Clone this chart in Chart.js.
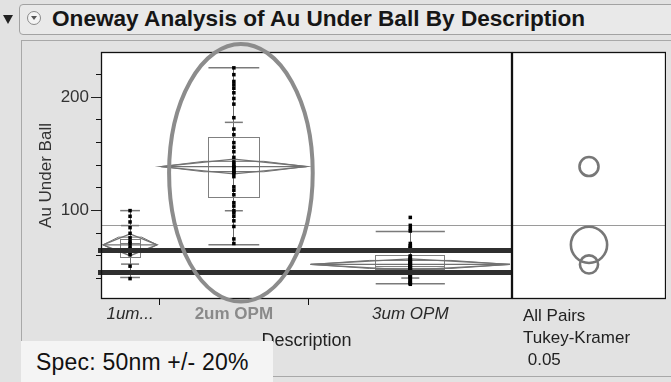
<!DOCTYPE html>
<html>
<head>
<meta charset="utf-8">
<script src="https://cdn.jsdelivr.net/npm/chart.js@4.4.0/dist/chart.umd.min.js"></script>
<style>
  html, body { margin: 0; padding: 0; }
  body {
    width: 671px; height: 382px; position: relative; overflow: hidden;
    background: #e2e2e2; font-family: "Liberation Sans", Arial, sans-serif; color: #111;
  }
  #titlebar {
    position: absolute; left: 19px; top: 4px; width: 670px; height: 31px;
    border: 1px solid #a2a2a2; border-radius: 4px; background: #e9e9e9; box-sizing: border-box;
  }
  #tri {
    position: absolute; left: 3px; top: 15px; width: 0; height: 0;
    border-left: 5px solid transparent; border-right: 5px solid transparent; border-top: 9px solid #222;
  }
  #disc {
    position: absolute; left: 27px; top: 11px; width: 14px; height: 14px; box-sizing: border-box;
    border: 1px solid #8a8a8a; border-radius: 50%; background: #f4f4f4;
  }
  #disc::after {
    content: ""; position: absolute; left: 3px; top: 4px; width: 0; height: 0;
    border-left: 3px solid transparent; border-right: 3px solid transparent; border-top: 4px solid #555;
  }
  #title {
    position: absolute; left: 52px; top: 6px; font-weight: bold; font-size: 22.6px;
    line-height: 26px; white-space: nowrap; color: #161616;
  }
  #panel {
    position: absolute; left: 21px; top: 40px; width: 670px; height: 337px;
    border: 1px solid #a8a8a8; box-sizing: border-box;
  }
  canvas { position: absolute; top: 0; }
  #main { left: 0; }
  #cmp { left: 512px; }
  #spec {
    position: absolute; left: 21px; top: 341px; width: 252px; height: 41px;
    background: #f4f4f4; font-size: 23px; line-height: 42px; padding-left: 15px;
    box-sizing: border-box; letter-spacing: 0.2px; white-space: nowrap; color: #111;
  }
  #method {
    position: absolute; left: 523px; top: 305px; font-size: 17px; line-height: 22px; color: #222;
  }
</style>
</head>
<body>
<div id="tri"></div>
<div id="titlebar"></div>
<div id="disc"></div>
<div id="title">Oneway Analysis of Au Under Ball By Description</div>
<div id="panel"></div>
<canvas id="main" width="671" height="382"></canvas>
<canvas id="cmp" width="154" height="382"></canvas>
<div id="method">All Pairs<br>Tukey-Kramer<br>&nbsp;0.05</div>
<div id="spec">Spec: 50nm +/- 20%</div>

<script>
// Description levels
const categories = ['1um...', '2um OPM', '3um OPM'];

// Au Under Ball observations per level
const values1um = [100, 95, 90, 85, 80, 76, 73, 71, 68, 66, 63, 61, 51, 40];
const values2um = [226, 220, 214, 211, 208, 204, 199, 194, 182, 172, 167, 160, 156, 152, 147, 143,
                   141, 139, 138, 137, 135, 134, 133, 130, 121, 118, 114, 107, 104, 100, 98, 95,
                   91, 86, 75, 71];
const values3um = [94, 87, 84, 82, 71, 69, 68, 67, 66, 60, 59, 58, 57, 57, 56, 55, 55, 54, 54,
                   53, 53, 52, 52, 51, 51, 50, 50, 49, 49, 48, 48, 47, 47, 46, 46, 45, 45, 44,
                   43, 42, 42, 41, 40, 39, 38, 37, 36, 36, 35];

// Per-level summary statistics
const groupMeans   = [69.8, 138.9, 52.5];
const meanCI95     = [9.6, 6.5, 5.0];
const quartile1    = [59.0, 112.2, 47.6];
const medians      = [71.0, 134.4, 51.0];
const quartile3    = [74.8, 164.8, 60.0];
const stdDevs      = [17.0, 39.0, 12.0];
const lowerLines   = [41.0, 69.8, 35.4];
const upperLines   = [100.0, 226.0, 81.5];
const circleRadii  = [16.0, 8.4, 8.0];   // Tukey-Kramer comparison circles

const grandMean  = 86.8;
const specLimits = [45.4, 64.8];
const yMajorTicks = [100, 200];
const yMinorTicks = [40, 60, 80, 120, 140, 160, 180, 220];
const yMin = 22, yMax = 240;

// Circled level (x in cumulative-count units, y in Au units)
const highlightEllipse = { x: 33.7, y: 133.4, rx: 17.3, ry: 113.7 };

const FONT = '"Liberation Sans", Arial, sans-serif';
Chart.defaults.font.family = FONT;

// Each level takes a share of the x axis proportional to its count
const levelValues = [values1um, values2um, values3um];
const levels = [];
let acc = 0;
levelValues.forEach(v => {
  levels.push({ start: acc, end: acc + v.length, center: acc + v.length / 2 });
  acc += v.length;
});
const totalCount = acc;

function seg(ctx, x1, y1, x2, y2) {
  ctx.beginPath(); ctx.moveTo(x1, y1); ctx.lineTo(x2, y2); ctx.stroke();
}
function crisp(v) { return Math.round(v - 0.5) + 0.5; }

const onewayPlugin = {
  id: 'oneway',
  beforeDraw(chart) {
    const { ctx, chartArea: a } = chart;
    ctx.save();
    ctx.fillStyle = '#ffffff';
    ctx.fillRect(a.left, a.top, a.right - a.left, a.bottom - a.top);
    ctx.restore();
  },
  beforeDatasetsDraw(chart) {
    const { ctx, chartArea: a, scales: { x, y } } = chart;
    ctx.save();
    ctx.strokeStyle = '#9a9a9a';
    ctx.lineWidth = 1;
    const gy = crisp(y.getPixelForValue(grandMean));
    seg(ctx, a.left, gy, a.right, gy);

    levels.forEach((g, i) => {
      const x0 = x.getPixelForValue(g.start);
      const x1 = x.getPixelForValue(g.end);
      const xc = x.getPixelForValue(g.center);
      const gw = x1 - x0;
      const bh = gw * 0.17;            // half box width
      const ch = 9;                    // half cap width

      // whisker through the points
      ctx.strokeStyle = '#6a6a6a'; ctx.lineWidth = 1;
      seg(ctx, crisp(xc), y.getPixelForValue(lowerLines[i]), crisp(xc), y.getPixelForValue(upperLines[i]));

      // box
      ctx.strokeStyle = '#808080'; ctx.lineWidth = 1;
      const yq1 = y.getPixelForValue(quartile1[i]);
      const yq3 = y.getPixelForValue(quartile3[i]);
      ctx.strokeRect(crisp(xc - bh), crisp(yq3), Math.round(2 * bh), Math.round(yq1 - yq3));
      seg(ctx, xc - bh, crisp(y.getPixelForValue(medians[i])), xc + bh, crisp(y.getPixelForValue(medians[i])));

      // outer lines
      ctx.strokeStyle = '#7a7a7a'; ctx.lineWidth = 1.5;
      [lowerLines[i], upperLines[i]].forEach(v => {
        const py = y.getPixelForValue(v);
        seg(ctx, xc - bh, py, xc + bh, py);
      });
      // mean +/- std dev caps
      [groupMeans[i] - stdDevs[i], groupMeans[i] + stdDevs[i]].forEach(v => {
        const py = y.getPixelForValue(v);
        seg(ctx, xc - ch, py, xc + ch, py);
      });

      // means diamond
      const ym = y.getPixelForValue(groupMeans[i]);
      const yt = y.getPixelForValue(groupMeans[i] + meanCI95[i]);
      const yb = y.getPixelForValue(groupMeans[i] - meanCI95[i]);
      ctx.strokeStyle = '#727272'; ctx.lineWidth = 1.3;
      ctx.beginPath();
      ctx.moveTo(x0 + 2, ym); ctx.lineTo(xc, yt); ctx.lineTo(x1 - 2, ym); ctx.lineTo(xc, yb); ctx.closePath();
      ctx.stroke();
      seg(ctx, x0 + 2, ym, x1 - 2, ym);
      // overlap marks
      const d = meanCI95[i] / Math.SQRT2;
      ctx.lineWidth = 1;
      [groupMeans[i] + d, groupMeans[i] - d].forEach(v => {
        const py = y.getPixelForValue(v);
        ctx.beginPath();
        ctx.moveTo(x0 + 2, ym);
        ctx.lineTo(x0 + gw * 0.3, py);
        ctx.lineTo(x1 - gw * 0.3, py);
        ctx.lineTo(x1 - 2, ym);
        ctx.stroke();
      });
    });
    ctx.restore();
  },
  afterDatasetsDraw(chart) {
    const { ctx, chartArea: a, scales: { x, y } } = chart;
    ctx.save();
    // spec limit lines
    ctx.strokeStyle = '#2f2f2f'; ctx.lineWidth = 5;
    specLimits.forEach(v => {
      const py = y.getPixelForValue(v);
      seg(ctx, a.left - 3, py, a.right, py);
    });
    // frame
    ctx.strokeStyle = '#111'; ctx.lineWidth = 1.3;
    ctx.strokeRect(a.left + 0.5, a.top + 0.5, a.right - a.left - 1, a.bottom - a.top - 1);
    // minor y ticks
    ctx.lineWidth = 1;
    yMinorTicks.forEach(v => {
      const py = crisp(y.getPixelForValue(v));
      seg(ctx, a.left - 5, py, a.left, py);
    });
    // level boundary ticks
    levels.slice(1).forEach(g => {
      const px = crisp(x.getPixelForValue(g.start));
      seg(ctx, px, a.bottom, px, a.bottom + 6);
    });
    // circled level
    const ex = x.getPixelForValue(highlightEllipse.x);
    const ey = y.getPixelForValue(highlightEllipse.y);
    const erx = x.getPixelForValue(highlightEllipse.x + highlightEllipse.rx) - ex;
    const ery = ey - y.getPixelForValue(highlightEllipse.y + highlightEllipse.ry);
    ctx.strokeStyle = '#8c8c8c'; ctx.lineWidth = 4;
    ctx.beginPath();
    ctx.ellipse(ex, ey, erx, ery, 0, 0, Math.PI * 2);
    ctx.stroke();
    ctx.restore();
  }
};

new Chart(document.getElementById('main'), {
  type: 'scatter',
  data: {
    datasets: levelValues.map((vals, i) => ({
      label: categories[i],
      data: vals.map(v => ({ x: levels[i].center, y: v })),
      pointStyle: 'rect',
      pointRadius: 2.5,
      pointBorderWidth: 0,
      pointBackgroundColor: '#000',
      pointBorderColor: '#000'
    }))
  },
  options: {
    responsive: false,
    animation: false,
    devicePixelRatio: 1,
    events: [],
    layout: { padding: { left: 31, top: 52, right: 159, bottom: 29 } },
    plugins: { legend: { display: false }, tooltip: { enabled: false } },
    scales: {
      x: {
        type: 'linear', min: 0, max: totalCount,
        afterBuildTicks: s => { s.ticks = levels.map(g => ({ value: g.center })); },
        afterFit: s => { s.height = 54; },
        grid: { display: true, drawOnChartArea: false, drawTicks: false },
        border: { display: false },
        ticks: {
          autoSkip: false, maxRotation: 0, minRotation: 0, padding: 5,
          callback: (v, i) => categories[i],
          font: c => c.index === 1
            ? { family: FONT, size: 17, weight: 'bold' }
            : { family: FONT, size: 17, style: 'italic' },
          color: c => c.index === 1 ? '#8a8a8a' : '#2a2a2a'
        },
        title: { display: true, text: 'Description', font: { family: FONT, size: 18 }, color: '#222',
                 padding: { top: 0, bottom: 1 } }
      },
      y: {
        type: 'linear', min: yMin, max: yMax,
        afterBuildTicks: s => { s.ticks = yMajorTicks.map(v => ({ value: v })); },
        afterFit: s => { s.width = 70; },
        grid: { drawOnChartArea: false, drawTicks: true, tickLength: 10, tickColor: '#222' },
        border: { display: false },
        ticks: { padding: 2, font: { family: FONT, size: 17 }, color: '#333' },
        title: { display: true, text: 'Au Under Ball', font: { family: FONT, size: 17 }, color: '#333',
                 padding: { top: 5, bottom: 4 } }
      }
    }
  },
  plugins: [onewayPlugin]
});

const comparePlugin = {
  id: 'compare',
  beforeDraw(chart) {
    const { ctx, chartArea: a } = chart;
    ctx.save();
    ctx.fillStyle = '#ffffff';
    ctx.fillRect(a.left, a.top, a.right - a.left, a.bottom - a.top);
    ctx.restore();
  },
  beforeDatasetsDraw(chart) {
    const { ctx, chartArea: a, scales: { y } } = chart;
    ctx.save();
    ctx.strokeStyle = '#9a9a9a'; ctx.lineWidth = 1;
    const gy = crisp(y.getPixelForValue(grandMean));
    seg(ctx, a.left, gy, a.right, gy);
    ctx.restore();
  },
  afterDatasetsDraw(chart) {
    const { ctx, chartArea: a } = chart;
    ctx.save();
    ctx.strokeStyle = '#111'; ctx.lineWidth = 1.3;
    ctx.strokeRect(a.left + 0.5, a.top + 0.5, a.right - a.left - 1, a.bottom - a.top - 1);
    ctx.restore();
  }
};

new Chart(document.getElementById('cmp'), {
  type: 'scatter',
  data: {
    datasets: [{
      label: 'Comparison circles',
      data: groupMeans.map(m => ({ x: 0, y: m })),
      pointRadius: c => {
        const s = c.chart.scales.y;
        const m = groupMeans[c.dataIndex];
        return Math.abs(s.getPixelForValue(m) - s.getPixelForValue(m + circleRadii[c.dataIndex]));
      },
      pointBorderWidth: 2.6,
      pointBorderColor: '#777',
      pointBackgroundColor: 'rgba(0,0,0,0)'
    }]
  },
  options: {
    responsive: false,
    animation: false,
    devicePixelRatio: 1,
    events: [],
    layout: { padding: { left: 0, top: 52, right: 0, bottom: 83 } },
    plugins: { legend: { display: false }, tooltip: { enabled: false } },
    scales: {
      x: { display: false, min: -1, max: 1 },
      y: { display: false, min: yMin, max: yMax }
    }
  },
  plugins: [comparePlugin]
});
</script>
</body>
</html>
